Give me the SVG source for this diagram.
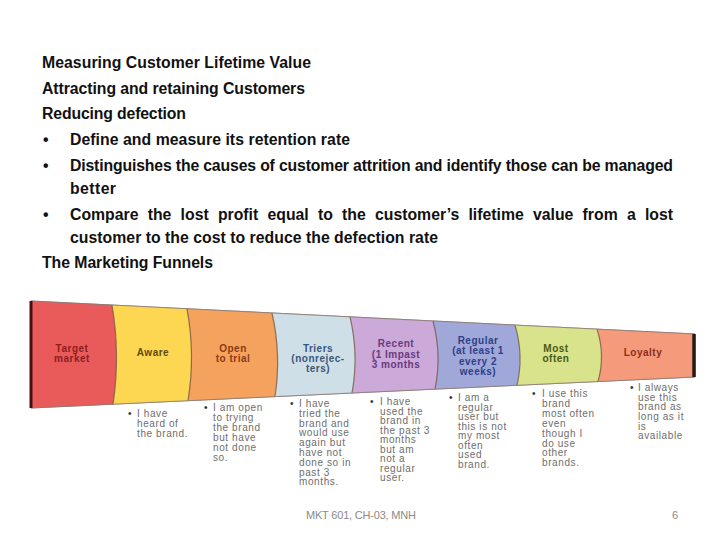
<svg xmlns="http://www.w3.org/2000/svg" width="720" height="540" viewBox="0 0 720 540">
<style>
.hd{font-family:"Liberation Sans",Arial,sans-serif;font-weight:bold;font-size:15.8px;fill:#111}
.lb{font-family:"Liberation Sans",Arial,sans-serif;font-weight:bold;font-size:10px;letter-spacing:0.5px;text-anchor:middle}
.ds{font-family:"Liberation Sans",Arial,sans-serif;font-size:10px;letter-spacing:0.6px;fill:#6e6e6e}
.bu{font-family:"Liberation Sans",Arial,sans-serif;font-size:10px;fill:#333}
.ft{font-family:"Liberation Sans",Arial,sans-serif;font-size:11px;fill:#8a8a8a}
.bd{fill:none;stroke:#6b5238;stroke-width:1.2;stroke-opacity:0.75}
</style>
<rect width="720" height="540" fill="#ffffff"/>

<g id="heading">
<text class="hd" x="42" y="68" textLength="269" lengthAdjust="spacing">Measuring Customer Lifetime Value</text>
<text class="hd" x="42" y="94" textLength="263" lengthAdjust="spacing">Attracting and retaining Customers</text>
<text class="hd" x="42" y="119" textLength="144" lengthAdjust="spacing">Reducing defection</text>
<text class="hd" x="43" y="145">•</text>
<text class="hd" x="70" y="145" textLength="280" lengthAdjust="spacing">Define and measure its retention rate</text>
<text class="hd" x="43" y="171">•</text>
<text class="hd" x="70" y="171" textLength="603" lengthAdjust="spacing">Distinguishes the causes of customer attrition and identify those can be managed</text>
<text class="hd" x="70" y="194" textLength="46" lengthAdjust="spacing">better</text>
<text class="hd" x="43" y="220">•</text>
<text class="hd" x="70" y="220" word-spacing="4.8" textLength="603" lengthAdjust="spacing">Compare the lost profit equal to the customer’s lifetime value from a lost</text>
<text class="hd" x="70" y="243" textLength="368" lengthAdjust="spacing">customer to the cost to reduce the defection rate</text>
<text class="hd" x="42" y="268" textLength="171" lengthAdjust="spacing">The Marketing Funnels</text>
</g>

<g id="funnel-outline">
<path d="M31,301 L695,334 L695,377 L31,408 Z" fill="#f4f0ee" stroke="#9b8f8a" stroke-width="1"/>
</g>

<g id="node-target">
<path d="M31,301 L112,305 Q120.5,354.6 113,404.2 L31,408 Z" fill="#E95B5B"/>
<text class="lb" fill="#8B1E1E"><tspan x="72" y="351.5">Target</tspan><tspan x="72" y="361.5">market</tspan></text>
</g>

<g id="node-aware">
<path d="M112,305 L187,308.8 Q195.5,354.75 188,400.7 L113,404.2 Q120.5,354.6 112,305 Z" fill="#FDD652"/>
<text class="lb" fill="#5C4A12" x="153" y="355.5">Aware</text>
<text class="bu" x="128" y="417">•</text>
<text class="ds"><tspan x="137" y="417">I have</tspan><tspan x="137" y="427">heard of</tspan><tspan x="137" y="437">the brand.</tspan></text>
</g>

<g id="node-open">
<path d="M187,308.8 L272,313 Q281.5,354.8 275,396.6 L188,400.7 Q195.5,354.75 187,308.8 Z" fill="#F4A25E"/>
<text class="lb" fill="#8B3A15"><tspan x="233" y="351.5">Open</tspan><tspan x="233" y="361.5">to trial</tspan></text>
<text class="bu" x="204" y="411">•</text>
<text class="ds"><tspan x="213" y="411">I am open</tspan><tspan x="213" y="421">to trying</tspan><tspan x="213" y="431">the brand</tspan><tspan x="213" y="441">but have</tspan><tspan x="213" y="451">not done</tspan><tspan x="213" y="461">so.</tspan></text>
</g>

<g id="node-triers">
<path d="M272,313 L350,316.9 Q359,355 352,393 L275,396.6 Q281.5,354.8 272,313 Z" fill="#CFDFE8"/>
<text class="lb" fill="#3A5878"><tspan x="318" y="351.5">Triers</tspan><tspan x="318" y="361.5">(nonrejec-</tspan><tspan x="318" y="372">ters)</tspan></text>
<text class="bu" x="290" y="407">•</text>
<text class="ds"><tspan x="299" y="407">I have</tspan><tspan x="299" y="416.8">tried the</tspan><tspan x="299" y="426.6">brand and</tspan><tspan x="299" y="436.4">would use</tspan><tspan x="299" y="446.2">again but</tspan><tspan x="299" y="456">have not</tspan><tspan x="299" y="465.8">done so in</tspan><tspan x="299" y="475.6">past 3</tspan><tspan x="299" y="485.4">months.</tspan></text>
</g>

<g id="node-recent">
<path d="M350,316.9 L433,321 Q442,355 435,389.1 L352,393 Q359,355 350,316.9 Z" fill="#CBA9D8"/>
<text class="lb" fill="#6A3A80"><tspan x="396" y="346.5">Recent</tspan><tspan x="396" y="357.5">(1 Impast</tspan><tspan x="396" y="368">3 months</tspan></text>
<text class="bu" x="370" y="405">•</text>
<text class="ds"><tspan x="380" y="405">I have</tspan><tspan x="380" y="414.5">used the</tspan><tspan x="380" y="424">brand in</tspan><tspan x="380" y="433.5">the past 3</tspan><tspan x="380" y="443">months</tspan><tspan x="380" y="452.5">but am</tspan><tspan x="380" y="462">not a</tspan><tspan x="380" y="471.5">regular</tspan><tspan x="380" y="481">user.</tspan></text>
</g>

<g id="node-regular">
<path d="M433,321 L515,325.1 Q524,355.2 517,385.3 L435,389.1 Q442,355 433,321 Z" fill="#A0A8DA"/>
<text class="lb" fill="#2F3F88"><tspan x="478" y="343.5">Regular</tspan><tspan x="478" y="354">(at least 1</tspan><tspan x="478" y="364.5">every 2</tspan><tspan x="478" y="375">weeks)</tspan></text>
<text class="bu" x="449" y="401">•</text>
<text class="ds"><tspan x="458" y="401">I am a</tspan><tspan x="458" y="410.5">regular</tspan><tspan x="458" y="420">user but</tspan><tspan x="458" y="429.5">this is not</tspan><tspan x="458" y="439">my most</tspan><tspan x="458" y="448.5">often</tspan><tspan x="458" y="458">used</tspan><tspan x="458" y="467.5">brand.</tspan></text>
</g>

<g id="node-most-often">
<path d="M515,325.1 L597,329.1 Q605.5,355.3 598,381.5 L517,385.3 Q524,355.2 515,325.1 Z" fill="#D8E38B"/>
<text class="lb" fill="#4A5A12"><tspan x="556" y="351.5">Most</tspan><tspan x="556" y="361.5">often</tspan></text>
<text class="bu" x="532" y="397">•</text>
<text class="ds"><tspan x="542" y="397">I use this</tspan><tspan x="542" y="407">brand</tspan><tspan x="542" y="417">most often</tspan><tspan x="542" y="427">even</tspan><tspan x="542" y="436.5">though I</tspan><tspan x="542" y="446.5">do use</tspan><tspan x="542" y="456">other</tspan><tspan x="542" y="466">brands.</tspan></text>
</g>

<g id="node-loyalty">
<path d="M597,329.1 L695,334 L695,377 L598,381.5 Q605.5,355.3 597,329.1 Z" fill="#F59B7C"/>
<text class="lb" fill="#8B2E1A" x="643" y="355.5">Loyalty</text>
<text class="bu" x="630" y="391">•</text>
<text class="ds"><tspan x="638" y="391">I always</tspan><tspan x="638" y="400.5">use this</tspan><tspan x="638" y="410">brand as</tspan><tspan x="638" y="420">long as it</tspan><tspan x="638" y="429.5">is</tspan><tspan x="638" y="439">available</tspan></text>
</g>

<g id="connectors">
<path class="bd" d="M112,305 Q120.5,354.6 113,404.2"/>
<path class="bd" d="M187,308.8 Q195.5,354.75 188,400.7"/>
<path class="bd" d="M272,313 Q281.5,354.8 275,396.6"/>
<path class="bd" d="M350,316.9 Q359,355 352,393"/>
<path class="bd" d="M433,321 Q442,355 435,389.1"/>
<path class="bd" d="M515,325.1 Q524,355.2 517,385.3"/>
<path class="bd" d="M597,329.1 Q605.5,355.3 598,381.5"/>
<path d="M31,301 L695,334 M31,408 L695,377" fill="none" stroke="#8a7a72" stroke-width="0.8"/>
<path d="M31,301 L31,408" stroke="#4a1010" stroke-width="3"/>
<path d="M694,334 L694,377" stroke="#2a1a14" stroke-width="3.5"/>
</g>

<g id="footer">
<text class="ft" x="306" y="519" textLength="110" lengthAdjust="spacing">MKT 601, CH-03, MNH</text>
<text class="ft" x="672" y="519">6</text>
</g>
</svg>
